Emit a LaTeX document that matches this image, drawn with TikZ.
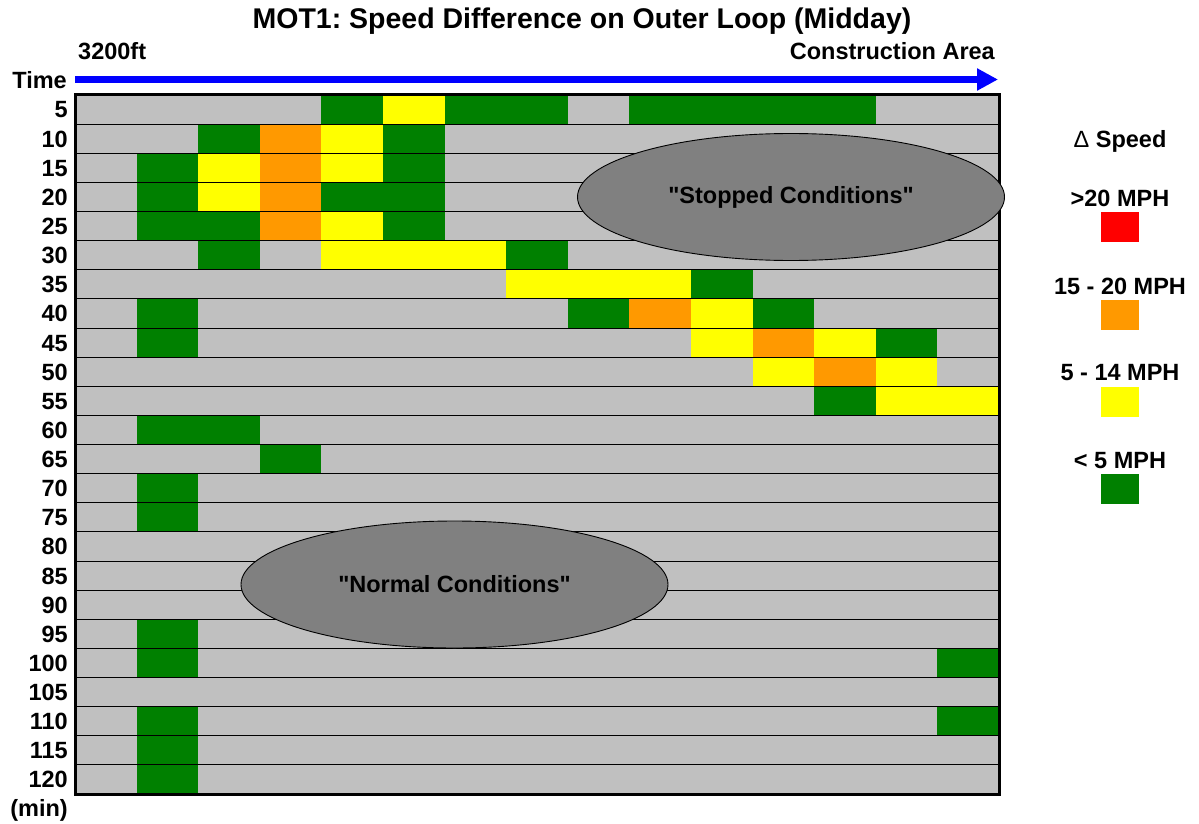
\documentclass[tikz,border=0pt]{standalone}
\usepackage{fontspec}
\setmainfont{Liberation Sans}
\frenchspacing
\usetikzlibrary{positioning,shapes.geometric,arrows.meta}

\definecolor{cellgray}{HTML}{C0C0C0}
\definecolor{slowgreen}{HTML}{008000}
\definecolor{midyellow}{HTML}{FFFF00}
\definecolor{highorange}{HTML}{FF9900}
\definecolor{topred}{HTML}{FF0000}
\definecolor{zonegray}{HTML}{808080}

\tikzset{
  lbl/.style={font=\bfseries\fontsize{23.5}{28}\selectfont, inner sep=0pt},
  zone/.style={ellipse, draw=black, line width=0.9pt, fill=zonegray,
    minimum width=427pt, minimum height=127pt, inner sep=0pt,
    font=\bfseries\fontsize{23.5}{28}\selectfont},
  swatch/.style={minimum width=38pt, minimum height=30pt, inner sep=0pt},
  road/.style={draw=blue, line width=7pt, -{Triangle[length=21pt,width=21pt]}}
}

\begin{document}
\begin{tikzpicture}[x=1pt,y=-1pt]
    \useasboundingbox (0,0) rectangle (1199,824);
    \fill[white] (0,0) rectangle (1199,824);

    \node[lbl, font=\bfseries\fontsize{28.5}{33}\selectfont, anchor=base] (title) at (582,29) {MOT1: Speed Difference on Outer Loop (Midday)};
    \node[lbl, anchor=base west] (start) at (78,60) {3200ft};
    \node[lbl, anchor=base east] (area) at (995,60) {Construction Area};
    \node[lbl, anchor=base east] (time) at (67,88.3) {Time};
    \node[lbl, anchor=base east] (unit) at (68,816) {(min)};

    \coordinate (roadstart) at (75,79.5);
    \coordinate (roadend) at (998,79.5);
    \draw[road] (roadstart) -- (roadend);

    % speed grid: 15 sections x 24 time steps
    \begin{scope}[shift={(75,95)}, x=61.6pt, y=-29.125pt]
        \fill[cellgray] (0,0) rectangle (15,24);
        \foreach \r/\cells in {
            0/{4/slowgreen,5/midyellow,6/slowgreen,7/slowgreen,9/slowgreen,10/slowgreen,11/slowgreen,12/slowgreen},
            1/{2/slowgreen,3/highorange,4/midyellow,5/slowgreen},
            2/{1/slowgreen,2/midyellow,3/highorange,4/midyellow,5/slowgreen},
            3/{1/slowgreen,2/midyellow,3/highorange,4/slowgreen,5/slowgreen},
            4/{1/slowgreen,2/slowgreen,3/highorange,4/midyellow,5/slowgreen},
            5/{2/slowgreen,4/midyellow,5/midyellow,6/midyellow,7/slowgreen},
            6/{7/midyellow,8/midyellow,9/midyellow,10/slowgreen},
            7/{1/slowgreen,8/slowgreen,9/highorange,10/midyellow,11/slowgreen},
            8/{1/slowgreen,10/midyellow,11/highorange,12/midyellow,13/slowgreen},
            9/{11/midyellow,12/highorange,13/midyellow},
            10/{12/slowgreen,13/midyellow,14/midyellow},
            11/{1/slowgreen,2/slowgreen},
            12/{3/slowgreen},
            13/{1/slowgreen},
            14/{1/slowgreen},
            18/{1/slowgreen},
            19/{1/slowgreen,14/slowgreen},
            21/{1/slowgreen,14/slowgreen},
            22/{1/slowgreen},
            23/{1/slowgreen}}
            \foreach \c/\k in \cells
                \fill[\k] (\c,\r) rectangle ++(1,1);
        \foreach \r in {1,...,23}
            \draw[line width=0.9pt] (0,\r) -- (15,\r);
        \draw[line width=3pt] (0,0) rectangle (15,24);
    \end{scope}

    \foreach \tm [count=\r from 0] in {5,10,...,120}
        \node[lbl, anchor=base east] (t\tm) at (68,{95+29.125*\r+23}) {\tm};

    \node[zone] (stopped) at (791,197) {\textquotedbl Stopped Conditions\textquotedbl};
    \node[zone] (normal) at (454.5,584.5) {\textquotedbl Normal Conditions\textquotedbl};

    % legend
    \node[lbl, anchor=base] (lgtitle) at (1120,147) {{\mdseries Δ} Speed};
    \node[lbl, anchor=base] (lg20) at (1120,206.5) {>20 MPH};
    \node[swatch, fill=topred, below=5.5pt of lg20.base] (sw20) {};
    \node[lbl, anchor=base] (lg15) at (1120,294) {15 - 20 MPH};
    \node[swatch, fill=highorange, below=5.5pt of lg15.base] (sw15) {};
    \node[lbl, anchor=base] (lg5) at (1120,380) {5 - 14 MPH};
    \node[swatch, fill=midyellow, below=6.5pt of lg5.base] (sw5) {};
    \node[lbl, anchor=base] (lg0) at (1120,468) {< 5 MPH};
    \node[swatch, fill=slowgreen, below=6pt of lg0.base] (sw0) {};
\end{tikzpicture}
\end{document}
